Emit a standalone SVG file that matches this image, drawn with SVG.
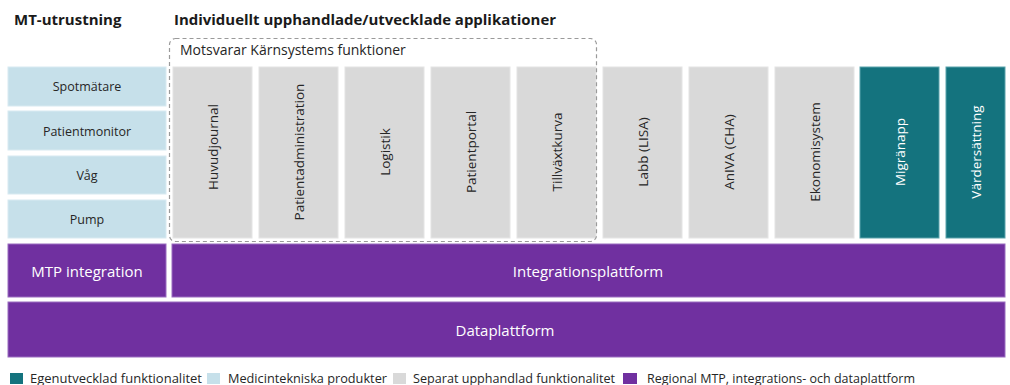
<svg xmlns="http://www.w3.org/2000/svg" width="1010" height="385" viewBox="0 0 1010 385">
<style>
text{font-family:"Open Sans","Noto Sans","Liberation Sans",sans-serif;}
.title{font-size:15px;font-weight:bold;fill:#1a1a1a;}
.mt{fill:#c6e0ea;stroke:#d8eaf1;stroke-width:1;}
.gr{fill:#d9d9d9;stroke:#e4e4e4;stroke-width:1;}
.te{fill:#14737e;stroke:#5aa3ab;stroke-width:1;}
.pu{fill:#7030a0;stroke:#9a6cc0;stroke-width:1;}
.lbl{font-size:12.5px;fill:#262626;text-anchor:middle;dominant-baseline:central;}
.vl{font-size:13.5px;fill:#262626;text-anchor:middle;dominant-baseline:central;}
.vw{font-size:13.5px;fill:#ffffff;text-anchor:middle;dominant-baseline:central;}
.wl{font-size:15px;fill:#ffffff;text-anchor:middle;dominant-baseline:central;}
.lg{font-size:12px;fill:#262626;}
</style>
<rect width="1010" height="385" fill="#ffffff"/>
<text class="title" x="14" y="25">MT-utrustning</text>
<text class="title" x="174" y="25" textLength="382" lengthAdjust="spacingAndGlyphs">Individuellt upphandlade/utvecklade applikationer</text>

<g id="mt-spotmatare"><rect class="mt" x="8" y="67" width="158" height="39"/><text class="lbl" x="87" y="86">Spotmätare</text></g>
<g id="mt-patientmonitor"><rect class="mt" x="8" y="111" width="158" height="39"/><text class="lbl" x="87" y="131">Patientmonitor</text></g>
<g id="mt-vag"><rect class="mt" x="8" y="156" width="158" height="38"/><text class="lbl" x="87" y="175">Våg</text></g>
<g id="mt-pump"><rect class="mt" x="8" y="200" width="158" height="38"/><text class="lbl" x="87" y="219">Pump</text></g>

<g id="app-huvudjournal"><rect class="gr" x="173" y="67" width="79" height="171"/><text class="vl" transform="translate(212.5,147) rotate(-90)">Huvudjournal</text></g>
<g id="app-patientadministration"><rect class="gr" x="259" y="67" width="79" height="171"/><text class="vl" transform="translate(298.5,152) rotate(-90)">Patientadministration</text></g>
<g id="app-logistik"><rect class="gr" x="345" y="67" width="79" height="171"/><text class="vl" transform="translate(384.5,152) rotate(-90)">Logistik</text></g>
<g id="app-patientportal"><rect class="gr" x="431" y="67" width="79" height="171"/><text class="vl" transform="translate(470.5,152) rotate(-90)">Patientportal</text></g>
<g id="app-tillvaxtkurva"><rect class="gr" x="517" y="67" width="79" height="171"/><text class="vl" transform="translate(556.5,152) rotate(-90)">Tillväxtkurva</text></g>
<g id="app-labb"><rect class="gr" x="603" y="67" width="79" height="171"/><text class="vl" transform="translate(642.5,152) rotate(-90)">Labb (LISA)</text></g>
<g id="app-aniva"><rect class="gr" x="689" y="67" width="79" height="171"/><text class="vl" transform="translate(728.5,152) rotate(-90)">AnIVA (CHA)</text></g>
<g id="app-ekonomisystem"><rect class="gr" x="775" y="67" width="79" height="171"/><text class="vl" transform="translate(814.5,152) rotate(-90)">Ekonomisystem</text></g>
<g id="app-migranapp"><rect class="te" x="860" y="67" width="79" height="171"/><text class="vw" transform="translate(899.5,152) rotate(-90)">Migränapp</text></g>
<g id="app-vardersattning"><rect class="te" x="946" y="67" width="59" height="171"/><text class="vw" transform="translate(975.5,152) rotate(-90)">Värdersättning</text></g>

<g id="group-karnsystem">
<rect x="169.5" y="38.5" width="427" height="203" rx="6" ry="6" fill="none" stroke="#9a9a9a" stroke-width="1.2" stroke-dasharray="4,3"/>
<text x="180" y="55" font-size="14" fill="#262626">Motsvarar Kärnsystems funktioner</text>
</g>

<g id="mtp-integration"><rect class="pu" x="8" y="244" width="158" height="53"/><text class="wl" x="87" y="270.5">MTP integration</text></g>
<g id="integrationsplattform"><rect class="pu" x="172" y="244" width="833" height="53"/><text class="wl" x="588" y="270.5">Integrationsplattform</text></g>
<g id="dataplattform"><rect class="pu" x="8" y="302" width="997" height="55"/><text class="wl" x="505" y="329.5">Dataplattform</text></g>

<g id="connectors"></g>

<g id="legend">
<rect x="10" y="373" width="13" height="11" fill="#14737e"/>
<text class="lg" x="30" y="383" textLength="172" lengthAdjust="spacingAndGlyphs">Egenutvecklad funktionalitet</text>
<rect x="207" y="373" width="13" height="11" fill="#c6e0ea"/>
<text class="lg" x="228" y="383" textLength="159" lengthAdjust="spacingAndGlyphs">Medicintekniska produkter</text>
<rect x="393" y="373" width="13" height="11" fill="#d9d9d9"/>
<text class="lg" x="413" y="383" textLength="202" lengthAdjust="spacingAndGlyphs">Separat upphandlad funktionalitet</text>
<rect x="623" y="373" width="14" height="11" fill="#7030a0"/>
<text class="lg" x="647" y="383" textLength="268" lengthAdjust="spacingAndGlyphs">Regional MTP, integrations- och dataplattform</text>
</g>
</svg>
